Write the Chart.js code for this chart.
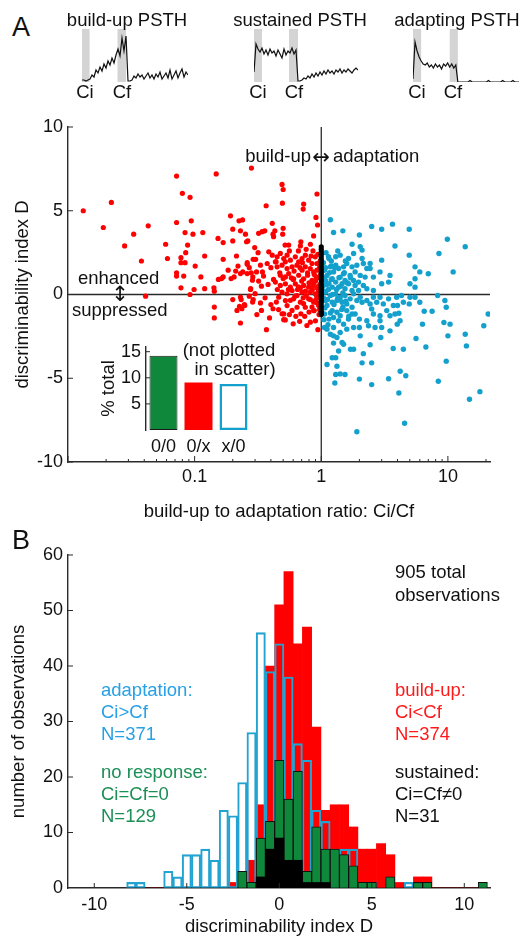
<!DOCTYPE html>
<html>
<head>
<meta charset="utf-8">
<script src="https://cdn.jsdelivr.net/npm/chart.js@4.4.0/dist/chart.umd.min.js"></script>
<style>
  html, body { margin: 0; padding: 0; background: #fff; }
  #fig { position: relative; width: 523px; height: 938px; overflow: hidden;
         font-family: "Liberation Sans", Arial, Helvetica, sans-serif; color: #111; }
  #fig canvas { position: absolute; }
  .t { position: absolute; font-size: 18.5px; line-height: 1; white-space: nowrap; transform: translateY(-50%); }
  .c { transform: translate(-50%, -50%); }
  .r { transform: translate(-100%, -50%); }
  .big { font-size: 27px; }
  .arrow { font-family: "DejaVu Sans", sans-serif; font-size: 21px; }
</style>
</head>
<body>
<div id="fig">
  <canvas id="psthBuild" width="106" height="53" style="left:82px;top:29px"></canvas>
  <canvas id="psthSust" width="104" height="53" style="left:254px;top:29px"></canvas>
  <canvas id="psthAdapt" width="106" height="53" style="left:413px;top:29px"></canvas>
  <canvas id="scatter" width="523" height="420" style="left:0;top:110px"></canvas>
  <canvas id="inset" width="210" height="140" style="left:60px;top:330px"></canvas>
  <canvas id="hist" width="523" height="408" style="left:0;top:530px"></canvas>

  <div class="t big" style="left:12px;top:27px">A</div>
  <div class="t c" style="left:127px;top:20px">build-up PSTH</div>
  <div class="t c" style="left:300px;top:20px">sustained PSTH</div>
  <div class="t c" style="left:457px;top:20px">adapting PSTH</div>
  <div class="t c" style="left:85px;top:92px">Ci</div>
  <div class="t c" style="left:122px;top:92px">Cf</div>
  <div class="t c" style="left:258px;top:92px">Ci</div>
  <div class="t c" style="left:294px;top:92px">Cf</div>
  <div class="t c" style="left:417px;top:92px">Ci</div>
  <div class="t c" style="left:453px;top:92px">Cf</div>

  <div class="t r" style="left:311px;top:156px">build-up</div>
  <div class="t c arrow" style="left:321px;top:157px">↔</div>
  <div class="t" style="left:333px;top:156px">adaptation</div>
  <div class="t" style="left:78px;top:278px">enhanced</div>
  <div class="t c arrow" style="left:120px;top:294px">↕</div>
  <div class="t" style="left:72px;top:310px">suppressed</div>
  <div class="t c" style="left:229px;top:350px">(not plotted</div>
  <div class="t c" style="left:235px;top:369px">in scatter)</div>

  <div class="t big" style="left:12px;top:540px">B</div>
  <div class="t" style="left:395px;top:572px">905 total</div>
  <div class="t" style="left:395px;top:595px">observations</div>
  <div class="t" style="left:101px;top:690px;color:#26a0e6">adaptation:</div>
  <div class="t" style="left:101px;top:712px;color:#26a0e6">Ci&gt;Cf</div>
  <div class="t" style="left:101px;top:734px;color:#26a0e6">N=371</div>
  <div class="t" style="left:101px;top:772px;color:#1b8f55">no response:</div>
  <div class="t" style="left:101px;top:794px;color:#1b8f55">Ci=Cf=0</div>
  <div class="t" style="left:101px;top:816px;color:#1b8f55">N=129</div>
  <div class="t" style="left:395px;top:690px;color:#ff1a1a">build-up:</div>
  <div class="t" style="left:395px;top:712px;color:#ff1a1a">Ci&lt;Cf</div>
  <div class="t" style="left:395px;top:734px;color:#ff1a1a">N=374</div>
  <div class="t" style="left:395px;top:772px">sustained:</div>
  <div class="t" style="left:395px;top:794px">Ci=Cf≠0</div>
  <div class="t" style="left:395px;top:816px">N=31</div>
</div>

<script>
// ---- PSTH traces (one sample every psthStep bins) and stimulus windows ----
const psthStep = 2;
const buildUpPsth = [2,2,1,2,3,7,5,12,9,15, 11,18,14,21,17,24,19,27,33,26, 44,31,46,1,1,2,6,4,8,5,
  7,3,6,9,4,7,3,8,5,10, 3,6,9,4,12,3,7,11,4,9, 13,5,10,7];
const sustainedPsth = [10,38,33,30,34,28,32,27,33,29,31,26,32,28,24,33,27,31,29,34,28,32,1,
  1,2,4,3,6,4,8,5,9,6,10,7,11,8,12,9,11,8,12,10,13,9,12,10,13,11,9,12,14,12];
const adaptingPsth = [3,40,31,25,21,18,17,19,15,17,14,18,15,17,13,18,16,19,15,18,14,17,0,
  0,0,0,0,0,1.5,0,0,0,0,0,0,0,0,1.5,0,0,0,0,0,0,1.5,0,0,0,0,1.5,0,0,0];
const buildUpWin = [[0, 7.6], [35.5, 44]];
const sustainedWin = [[0, 8], [35, 44]];
const adaptingWin = [[0, 8], [36, 44]];

// ---- scatter: [Ci/Cf ratio, discriminability D] ----
const buildPts = [
  [0.0132,5.0],[0.019,4.0],[0.022,5.5],[0.028,2.9],[0.033,3.6],[0.038,2.0],[0.043,4.1],[0.041,-0.1],
  [0.072,7.07],[0.08,6.04],[0.092,5.8],[0.059,3.0],[0.061,2.15],[0.072,4.3],[0.094,4.4],[0.084,3.7],[0.097,3.6],[0.088,2.95],[0.078,2.2],[0.085,2.5],
  [0.078,1.9],[0.084,1.9],[0.101,1.7],[0.072,1.3],[0.072,1.1],[0.082,1.1],[0.078,0.4],[0.099,0.3],[0.092,0.0],[0.112,1.05],
  [0.12,2.3],[0.116,3.7],[0.12,0.35],[0.142,0.4],[0.143,0.2],[0.143,-0.75],[0.143,-1.4],[0.148,7.2],[0.153,3.35],[0.168,3.1],
  [0.168,2.1],[0.154,0.9],[0.168,1.05],[0.184,1.45],[0.192,4.7],[0.2,3.9],[0.2,3.2],[0.224,4.4],[0.23,3.8],[0.194,0.95],
  [0.2,-0.3],[0.214,2.3],[0.22,1.7],[0.23,1.25],[0.23,-0.15],[0.23,-1.7],[0.236,-0.85],[0.249,-0.65],[0.252,3.6],[0.263,3.2],
  [0.26,1.8],[0.27,1.6],[0.28,1.3],[0.26,1.25],[0.286,0.85],[0.277,0.35],[0.287,-0.45],[0.281,7.55],[0.298,2.8],[0.303,2.1],
  [0.32,3.65],[0.239,4.45],[0.367,5.3],[0.493,5.45],[0.726,5.4],[0.72,5.1],[0.908,4.6],[0.935,4.15],[0.49,6.57],[0.5,6.27],
  [0.925,6.0],[0.41,4.25],[0.257,3.15],[0.341,3.75],[0.358,3.8],[0.43,3.8],[0.416,3.6],[0.5,3.95],[0.496,3.6],[0.518,2.95],
  [0.553,2.95],[0.69,3.15],[0.82,3.0],[0.684,2.9],[0.87,3.5],[0.42,3.45],[0.317,2.5],[0.29,2.1],[0.26,1.9],[0.24,1.35],
  [0.163,0.95],[0.211,1.4],[0.205,1.05],[0.385,2.55],[0.41,2.35],[0.434,1.95],[0.374,1.85],[0.331,1.75],[0.343,1.35],[0.308,1.35],
  [0.288,1.05],[0.276,0.3],[0.29,-0.3],[0.337,0.5],[0.233,-0.3],[0.216,-0.95],[0.226,-0.7],[0.247,-0.6],[0.337,-0.95],[0.331,-0.5],
  [0.369,-2.1],[0.416,-0.85],[0.442,-0.45],[0.49,-1.15],[0.505,-1.5],[0.588,-0.95],[0.69,-1.15],[0.82,-1.65],[0.57,-0.35],[0.725,-0.55],
  [0.845,-0.75],[0.9,-0.35],[0.52,-1.52],[0.675,-1.6],[0.9,-1.57],[0.88,-0.96],
  [0.448,2.25],[0.475,2.45],[0.505,2.15],[0.537,2.35],[0.57,2.05],[0.624,2.25],[0.663,1.95],[0.705,2.15],[0.748,2.35],[0.795,2.05],
  [0.845,1.85],[0.897,2.25],[0.925,1.85],[0.448,1.65],[0.49,1.75],[0.537,1.55],[0.588,1.65],[0.643,1.75],[0.705,1.45],[0.748,1.65],
  [0.819,1.55],[0.871,1.35],[0.925,1.45],[0.475,1.15],[0.521,1.05],[0.553,1.25],[0.605,0.94],[0.663,1.15],[0.726,0.94],[0.78,1.15],
  [0.845,0.84],[0.91,1.05],[0.434,0.74],[0.475,0.54],[0.521,0.64],[0.57,0.44],[0.624,0.64],[0.684,0.4],[0.726,0.54],[0.795,0.44],
  [0.86,0.54],[0.925,0.4],[0.49,0.14],[0.537,0.04],[0.588,0.24],[0.643,-0.06],[0.705,0.14],[0.76,-0.06],[0.819,0.14],[0.897,0.04],
  [0.953,0.14],[0.461,-0.16],[0.521,-0.36],[0.605,-0.26],[0.684,-0.46],[0.795,-0.26],[0.871,-0.46],[0.537,-0.66],[0.643,-0.76],[0.748,-0.76],
  [0.871,-0.96],[0.953,-0.66],[0.505,-1.16],
  [0.6,0.9],[0.65,0.3],[0.7,0.8],[0.75,0.2],[0.8,0.7],[0.85,0.3],[0.9,0.8],[0.95,0.5],[0.92,-0.1],[0.88,1.2],
  [0.78,1.3],[0.68,1.6],[0.58,1.0],[0.55,0.3],[0.62,-0.1],[0.72,-0.2],[0.82,-0.3],[0.93,-0.5],[0.96,1.0],[0.97,1.6],
  [0.94,2.4],[0.86,2.6],[0.76,2.7],[0.66,2.6],[0.56,2.6],[0.47,1.3],[0.45,0.3],[0.42,0.9],[0.4,1.6],[0.38,0.6],
  [0.36,-0.2],[0.4,-0.6],[0.46,-0.9],[0.56,-1.2],[0.63,-1.3],[0.74,-1.3],[0.8,-1.05],[0.96,-1.2],[0.97,-0.9],[0.95,0.2],
  [0.98,2.0],[0.99,1.2],[0.98,0.6],[0.97,-0.2],[0.83,2.3],[0.71,1.9],[0.61,1.4],[0.52,1.95],[0.44,1.95],[0.35,1.1],
  [0.32,0.8],[0.3,0.05],[0.27,-0.1],[0.31,-1.2],[0.39,-1.4],[0.6,-1.75],[0.77,-1.85],[0.94,-2.1],[0.5,0.95],[0.66,0.45],[0.87,0.65]
];
const adaptPts = [
  [1.18,4.46],[1.25,3.7],[1.48,3.8],[2.0,3.55],[1.75,3.0],[2.5,4.06],[3.0,3.9],[3.65,4.2],[4.95,3.9],[3.82,2.9],
  [2.03,2.85],[2.1,2.65],[1.8,2.45],[1.64,2.15],[1.41,2.35],[1.3,2.25],[1.15,2.15],[2.1,2.15],[2.15,1.85],[2.43,1.85],
  [2.43,1.55],[3.0,2.05],[4.95,2.35],[5.5,1.65],[6.0,1.35],[7.0,1.24],[8.5,2.45],[9.9,3.3],[13.7,2.85],[11.0,1.35],
  [1.06,1.45],[1.11,1.14],[1.25,1.35],[1.37,1.55],[1.5,1.24],[1.69,1.14],[1.85,1.35],[2.03,1.14],[2.22,1.04],[2.58,1.04],
  [2.91,1.35],[3.49,1.14],[3.4,0.74],[3.0,0.64],[5.02,0.64],[5.5,0.94],[5.5,0.44],[4.3,-0.06],[5.02,-0.16],[4.45,-0.46],
  [4.95,-0.56],[5.5,-0.16],[6.0,-0.46],[8.3,-0.06],[9.47,-0.36],[9.7,-0.76],[6.5,-1.0],[7.5,-1.0],[6.3,-1.77],[9.3,-1.67],
  [10.4,-1.77],[10.0,-2.47],[13.7,-2.37],[14.0,-3.07],[19.2,-1.87],[20.8,-1.16],[9.7,-3.98],[8.4,-5.18],[14.8,-6.25],[17.9,-5.8],
  [4.1,-5.88],[4.55,-7.69],[1.91,-8.19],[2.5,-5.38],[2.0,-5.05],[3.4,-5.03],[4.2,-4.58],[4.65,-4.85],[6.7,-3.13],[5.6,-2.63],
  [4.45,-3.27],[3.7,-3.22],[2.95,-2.57],[2.43,-3.0],[2.15,-3.53],[2.1,-4.08],[2.5,-4.08],[1.8,-3.27],[1.7,-3.27],[1.5,-2.97],
  [1.37,-3.37],[1.3,-3.78],[1.22,-3.78],[1.11,-4.18],[1.33,-4.28],[1.3,-4.78],[1.41,-4.74],[1.54,-4.78],[1.28,-5.28],[1.25,-2.47],
  [1.18,-2.37],[1.41,-2.27],[1.33,-2.57],[1.46,-2.87],[1.59,-2.07],[1.8,-1.97],[2.0,-1.97],[2.03,-2.47],[2.36,-1.87],[2.66,-1.97],
  [3.0,-1.97],[3.49,-2.17],[3.98,-1.77],[4.19,-1.57],[3.49,-1.27],[3.82,-1.16],[4.1,-1.12],[2.91,-1.27],[2.91,-1.57],[2.5,-0.86],
  [2.58,-1.16],[2.29,-1.57],[2.0,-1.47],[1.85,-1.16],[1.64,-1.47],[1.5,-1.77],[1.37,-1.57],[1.25,-1.37],[1.15,-1.47],[1.06,-1.97],
  [1.11,-2.07],[1.25,-1.97],[3.09,-0.56],[3.29,-0.96],[3.71,-0.66],[4.0,-0.66],[2.91,-0.16],[3.4,-0.26],[3.94,-0.16],[2.29,-0.36],
  [2.1,-0.46],[1.91,-0.36],[1.75,-0.76],[1.59,-0.56],[1.48,-0.76],[1.33,-1.06],[1.22,-0.96],[1.11,-0.66],[1.06,-1.16],
  [1.08,0.84],[1.15,0.64],[1.22,0.44],[1.3,0.74],[1.37,0.44],[1.46,0.64],[1.54,0.34],[1.64,0.64],[1.75,0.24],[1.85,0.54],
  [1.97,0.24],[2.03,-0.16],[1.08,0.14],[1.18,-0.06],[1.3,0.04],[1.41,-0.16],[1.54,-0.06],[1.69,-0.26],[1.8,0.04],[1.08,-0.36],
  [1.22,-0.46],[1.33,-0.36],[1.46,-0.46],[1.59,-0.96],[1.75,-1.16],[1.41,-1.27],[1.18,1.65],[1.3,1.75],[1.5,1.65],[1.59,1.85],
  [1.75,1.65],[1.91,1.75],[2.29,1.55],[1.22,0.94],[1.41,1.04],[1.54,0.84],[1.8,0.84],[1.97,0.74],[2.15,0.54],[2.29,0.34],
  [2.58,0.24],[2.58,-0.16],[2.74,-0.46],[2.43,-0.56],
  [1.03,0.5],[1.04,-0.2],[1.05,1.0],[1.06,0.2],[1.07,-0.8],[1.08,1.6],[1.1,0.6],[1.12,-0.3],[1.14,0.3],[1.16,1.3],
  [1.18,-1.1],[1.2,0.9],[1.23,0.0],[1.26,-0.6],[1.28,1.6],[1.32,0.3],[1.35,-0.2],[1.38,1.0],[1.42,0.5],[1.45,-0.9],
  [1.48,0.1],[1.52,1.3],[1.56,-0.4],[1.6,0.7],[1.65,-1.3],[1.7,1.0],[1.04,1.9],[1.05,-1.5],[1.09,2.5],[1.13,-1.8],
  [1.2,2.0],[1.25,-2.9],[1.35,2.6],[1.4,-0.3],[1.55,2.0],[1.14,2.25],[1.2,1.7]
];
// sustained cells all sit at Ci/Cf = 1
const sustainedD = [2.85,2.7,2.55,2.4,2.25,2.1,1.95,1.8,1.65,1.5,1.35,1.2,1.05,0.9,0.75,0.6,0.5,0.4,0.3,0.2,
  0.1,0.0,-0.1,-0.25,-0.4,-0.55,-0.7,-0.85,-1.0,-1.1,-1.2];

// ---- inset: % of total not plotted in scatter ----
const insetCats = ['0/0', '0/x', 'x/0'];
const insetPct = [14.2, 9.1, 8.8];

// ---- histogram: bin centres of D and counts per group ----
const binCenters = [-8,-7.5,-7,-6.5,-6,-5.5,-5,-4.5,-4,-3.5,-3,-2.5,-2,-1.5,-1,-0.5,0,0.5,1,1.5,
  2,2.5,3,3.5,4,4.5,5,5.5,6,6.5,7,7.5,8,8.5,9,9.5,10,10.5,11];
const adaptCounts =     [1,1,0,0,3,2,6,6,7,5,14,13,19,28,46,39,44,38,26,23, 14,12,7,7,7,1,1,0,0,0,1,0,0,0,0,0,0,0,0];
const buildCounts =     [0,0,0,0,0,0,0,0,0,0,0,1,2,5,15,40,51,57,44,47, 29,14,15,15,11,7,7,8,6,1,0,2,2,0,0,0,0,0,0];
const noRespCounts =    [0,0,0,0,0,0,0,0,0,0,0,0,3,1,9,12,23,16,21,3, 11,7,7,6,4,1,1,0,2,0,0,1,1,0,0,0,0,0,1];
const sustainedCounts = [0,0,0,0,0,0,0,0,0,0,0,0,0,0,2,7,9,5,5,1, 1,1,0,0,0,0,0,0,0,0,0,0,0,0,0,0,0,0,0];

const RED = '#ff0000', BLUE = '#14a0cc', GREEN = '#10883c', AXIS = '#2a2a2a';
const FONT = '"Liberation Sans", Arial, Helvetica, sans-serif';
const tickFont = { family: FONT, size: 18 };
const titleFont = { family: FONT, size: 18.5 };

function fixTicks(values) {
  return scale => { scale.ticks = values.map(v => ({ value: v })); };
}

// small tick marks pointing into the plot
function inwardTicks(ctx, scale, values, len) {
  ctx.beginPath();
  values.forEach(v => {
    const p = scale.getPixelForValue(v);
    if (scale.isHorizontal()) { ctx.moveTo(p, scale.top); ctx.lineTo(p, scale.top - len); }
    else { ctx.moveTo(scale.right, p); ctx.lineTo(scale.right + len, p); }
  });
  ctx.stroke();
}

// ---- PSTH panels ----
const windowShade = {
  id: 'windowShade',
  beforeDatasetsDraw(chart, args, opts) {
    const { ctx, chartArea: a, scales: { x } } = chart;
    ctx.save();
    ctx.fillStyle = '#d4d4d4';
    opts.windows.forEach(([s, e]) => {
      const l = x.getPixelForValue(s), r = x.getPixelForValue(e);
      ctx.fillRect(l, a.top, r - l, a.bottom - a.top);
    });
    ctx.restore();
  }
};

function psth(id, values, windows) {
  new Chart(document.getElementById(id), {
    type: 'line',
    data: { datasets: [{
      data: values.map((v, i) => ({ x: i * psthStep, y: v })),
      borderColor: '#111', borderWidth: 1.2, pointRadius: 0, tension: 0, clip: false
    }] },
    options: {
      responsive: false, animation: false, events: [],
      layout: { padding: 0 },
      plugins: { legend: { display: false }, tooltip: { enabled: false }, windowShade: { windows } },
      scales: {
        x: { type: 'linear', display: false, min: 0, max: (values.length - 1) * psthStep },
        y: { display: false, min: 0, max: 53 }
      }
    },
    plugins: [windowShade]
  });
}
psth('psthBuild', buildUpPsth, buildUpWin);
psth('psthSust', sustainedPsth, sustainedWin);
psth('psthAdapt', adaptingPsth, adaptingWin);

// ---- scatter ----
const scatterGuides = {
  id: 'scatterGuides',
  beforeDatasetsDraw(chart) {
    const { ctx, chartArea: a, scales: { x, y } } = chart;
    ctx.save();
    ctx.strokeStyle = AXIS;
    ctx.lineWidth = 1.3;
    const y0 = y.getPixelForValue(0), x1 = x.getPixelForValue(1);
    ctx.beginPath();
    ctx.moveTo(a.left, y0); ctx.lineTo(a.right, y0);
    ctx.moveTo(x1, a.top); ctx.lineTo(x1, a.bottom);
    ctx.stroke();
    ctx.lineWidth = 1;
    inwardTicks(ctx, y, [-10, -5, 0, 5, 10], 5);
    const minor = [];
    [0.01, 0.1, 1, 10].forEach(d => {
      for (let k = 2; k <= 9; k++) if (k * d <= x.max) minor.push(k * d);
    });
    inwardTicks(ctx, x, minor, 3);
    inwardTicks(ctx, x, [0.01, 0.1, 1, 10], 6);
    ctx.restore();
  }
};

const dot = (color, r) => ({ backgroundColor: color, borderWidth: 0, pointRadius: r, pointHoverRadius: r });
new Chart(document.getElementById('scatter'), {
  type: 'scatter',
  data: { datasets: [
    { label: 'sustained', data: sustainedD.map(d => ({ x: 1, y: d })), ...dot('#000', 2.6) },
    { label: 'adaptation', data: adaptPts.map(([r, d]) => ({ x: r, y: d })), ...dot(BLUE, 2.7) },
    { label: 'build-up', data: buildPts.map(([r, d]) => ({ x: r, y: d })), ...dot(RED, 2.6) }
  ] },
  options: {
    responsive: false, animation: false, events: [],
    layout: { padding: { top: 17, right: 33, left: 0, bottom: 0 } },
    plugins: { legend: { display: false }, tooltip: { enabled: false } },
    scales: {
      x: {
        type: 'logarithmic', min: 0.01, max: 21.5,
        afterBuildTicks: fixTicks([0.1, 1, 10]),
        afterFit: s => { s.height = 68; },
        grid: { display: false, drawTicks: false },
        border: { display: true, color: AXIS, width: 1.4 },
        ticks: { color: '#111', font: tickFont, padding: 4, maxRotation: 0, autoSkip: false, callback: v => String(v) },
        title: { display: true, text: 'build-up to adaptation ratio: Ci/Cf', color: '#111', font: titleFont, padding: { top: 0, bottom: 7 } }
      },
      y: {
        min: -10, max: 10,
        afterBuildTicks: fixTicks([-10, -5, 0, 5, 10]),
        afterFit: s => { s.width = 68; },
        grid: { display: false, drawTicks: false },
        border: { display: true, color: AXIS, width: 1.4 },
        ticks: { color: '#111', font: tickFont, padding: 5 },
        title: { display: true, text: 'discriminability index D', color: '#111', font: titleFont, padding: { top: 12, bottom: 0 } }
      }
    }
  },
  plugins: [scatterGuides]
});

// ---- inset bar chart ----
new Chart(document.getElementById('inset'), {
  type: 'bar',
  data: {
    labels: insetCats,
    datasets: [{
      data: insetPct,
      backgroundColor: [GREEN, RED, '#fff'],
      borderColor: ['#1a1a1a', RED, BLUE],
      borderWidth: [1, 0, 2.5],
      borderSkipped: false,
      barPercentage: 0.8, categoryPercentage: 1
    }]
  },
  options: {
    responsive: false, animation: false, events: [],
    layout: { padding: { top: 17, right: 19, left: 0, bottom: 0 } },
    plugins: { legend: { display: false }, tooltip: { enabled: false } },
    scales: {
      x: {
        afterFit: s => { s.height = 40; },
        grid: { display: false, drawTicks: false },
        border: { display: false },
        ticks: { color: '#111', font: tickFont, padding: 6 }
      },
      y: {
        min: 0, max: 15.9,
        afterBuildTicks: fixTicks([5, 10, 15]),
        afterFit: s => { s.width = 86; },
        grid: { display: false, drawTicks: false },
        border: { display: true, color: AXIS, width: 1.4 },
        ticks: { color: '#111', font: tickFont, padding: 5 },
        title: { display: true, text: '% total', color: '#111', font: titleFont, padding: { top: 38, bottom: 0 } }
      }
    }
  },
  plugins: [{
    id: 'insetTicks',
    afterDraw(chart) {
      const { ctx, scales: { y } } = chart;
      ctx.save(); ctx.strokeStyle = AXIS; ctx.lineWidth = 1;
      inwardTicks(ctx, y, [5, 10, 15], 4);
      ctx.restore();
    }
  }]
});

// ---- histogram ----
const bins = counts => binCenters.map((c, i) => ({ x: c, y: counts[i] }));
new Chart(document.getElementById('hist'), {
  type: 'bar',
  data: { datasets: [
    { label: 'sustained', data: bins(sustainedCounts), backgroundColor: '#000', borderWidth: 0 },
    { label: 'no response', data: bins(noRespCounts), backgroundColor: GREEN, borderColor: '#111', borderWidth: 1 },
    { label: 'adaptation', data: bins(adaptCounts), backgroundColor: 'rgba(0,0,0,0)', borderColor: '#22a3d2', borderWidth: 1.4, borderSkipped: false },
    { label: 'build-up', data: bins(buildCounts), backgroundColor: RED, borderWidth: 0 }
  ] },
  options: {
    responsive: false, animation: false, events: [],
    datasets: { bar: { grouped: false, barPercentage: 1, categoryPercentage: 1 } },
    layout: { padding: { top: 25, right: 33, left: 0, bottom: 0 } },
    plugins: { legend: { display: false }, tooltip: { enabled: false } },
    scales: {
      x: {
        type: 'linear', offset: false, min: -11.42, max: 11.39,
        afterBuildTicks: fixTicks([-10, -5, 0, 5, 10]),
        afterFit: s => { s.height = 50; },
        grid: { display: false, drawTicks: false },
        border: { display: true, color: AXIS, width: 1.4 },
        ticks: { color: '#111', font: tickFont, padding: 6, maxRotation: 0 },
        title: { display: true, text: 'discriminability index D', color: '#111', font: titleFont, padding: { top: 0, bottom: 0 } }
      },
      y: {
        min: 0, max: 60,
        afterBuildTicks: fixTicks([0, 10, 20, 30, 40, 50, 60]),
        afterFit: s => { s.width = 68; },
        grid: { display: false, drawTicks: false },
        border: { display: true, color: AXIS, width: 1.4 },
        ticks: { color: '#111', font: tickFont, padding: 5 },
        title: { display: true, text: 'number of observations', color: '#111', font: titleFont, padding: { top: 7.5, bottom: 0 } }
      }
    }
  },
  plugins: [{
    id: 'histTicks',
    afterDraw(chart) {
      const { ctx, scales: { x, y } } = chart;
      ctx.save(); ctx.strokeStyle = AXIS; ctx.lineWidth = 1;
      inwardTicks(ctx, x, [-10, -5, 0, 5, 10], 5);
      inwardTicks(ctx, y, [10, 20, 30, 40, 50, 60], 5);
      ctx.restore();
    }
  }]
});
</script>
</body>
</html>
